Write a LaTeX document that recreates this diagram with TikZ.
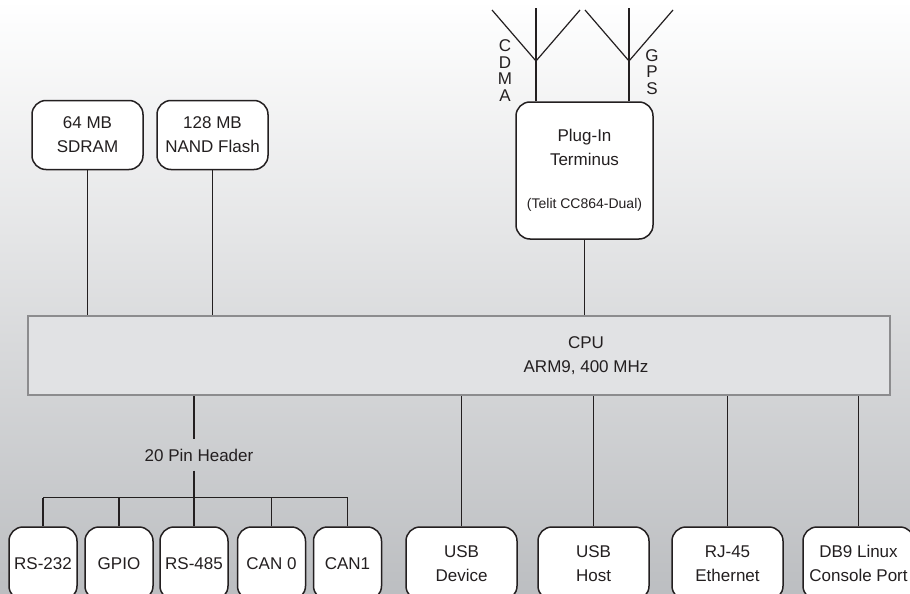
\documentclass[tikz,border=0pt]{standalone}
\usepackage{fontspec}
\setmainfont{Liberation Sans}
\definecolor{bgmid}{RGB}{232,233,235}
\definecolor{bgbot}{RGB}{188,190,193}
\definecolor{cpufill}{RGB}{225,226,228}
\definecolor{cpuedge}{RGB}{140,140,142}
\definecolor{ink}{RGB}{35,31,32}
\tikzset{
  unit/.style={draw=ink, line width=1.5pt, fill=white, rounded corners=14pt, inner sep=0pt,
    align=center, text=ink, font=\fontsize{17}{24}\selectfont},
  port/.style={unit, minimum width=68pt, minimum height=73pt},
  wideport/.style={unit, minimum width=111pt, minimum height=73pt},
  memory/.style={unit, minimum width=111pt, minimum height=69pt},
  cpubox/.style={draw=cpuedge, line width=2pt, fill=cpufill, inner sep=0pt},
  link/.style={draw=ink, line width=1.2pt},
  caption/.style={text=ink, align=center, inner sep=0pt, font=\fontsize{17}{24}\selectfont},
  letters/.style={caption, font=\fontsize{17}{16.8}\selectfont}
}

\begin{document}
\begin{tikzpicture}[x=1pt, y=-1pt]
    \useasboundingbox (0,0) rectangle (910,594);
    \shade[top color=white, middle color=bgmid, bottom color=bgbot] (0,0) rectangle (910,594);

    % processor
    \node[cpubox, minimum width=862pt, minimum height=79pt] (cpu) at (459,355.5) {};
    \node[caption] (cputext) at (586,355.5) {CPU\\ARM9, 400 MHz};

    % memory and modem
    \node[memory] (sdram) at (87.5,135) {64 MB\\SDRAM};
    \node[memory] (nand) at (212.5,135) {128 MB\\NAND Flash};
    \node[unit, minimum width=137pt, minimum height=137pt] (plugin) at (584.5,170.5)
      {Plug-In\\Terminus\\[19pt]{\fontsize{14}{17}\selectfont(Telit CC864-Dual)}};
    \draw[link] (sdram) -- (sdram |- cpu.north);
    \draw[link] (nand) -- (nand |- cpu.north);
    \draw[link] (plugin) -- (plugin |- cpu.north);

    % antennas
    \coordinate (cdma) at (536,61);
    \coordinate (gps) at (629,61);
    \foreach \a in {cdma, gps} {
      \draw[link] (plugin.north -| \a) -- ([shift={(0,-53)}]\a);
      \draw[link] ([shift={(-44,-51)}]\a) -- (\a) -- ([shift={(44,-51)}]\a);
    }
    \node[letters] (cdmalbl) at (505,70.5) {C\\D\\M\\A};
    \node[letters] (gpslbl) at (652,72) {G\\P\\S};

    % header ports
    \node[caption, minimum height=31pt] (hdr) at (199,455) {20 Pin Header};
    \coordinate (split) at (194,497.5);
    \node[port] (rs232) at (43,563.5) {RS-232};
    \node[port] (gpio) at (119,563.5) {GPIO};
    \node[port] (rs485) at (194,563.5) {RS-485};
    \node[port] (can0) at (271.5,563.5) {CAN 0};
    \node[port] (can1) at (347.5,563.5) {CAN1};
    \draw[link] (cpu.south -| split) -- (hdr.north -| split);
    \draw[link] (hdr.south -| split) -- (split);
    \draw[link] (rs232.north |- split) -- (can1.north |- split);
    \foreach \p in {rs232, gpio, rs485, can0, can1}
      \draw[link] (\p) -- (\p |- split);

    % other ports
    \node[wideport] (usbdev) at (461.5,563.5) {USB\\Device};
    \node[wideport] (usbhost) at (593.5,563.5) {USB\\Host};
    \node[wideport] (rj45) at (727.5,563.5) {RJ-45\\Ethernet};
    \node[wideport] (db9) at (858.5,563.5) {DB9 Linux\\Console Port};
    \foreach \p in {usbdev, usbhost, rj45, db9}
      \draw[link] (\p) -- (\p |- cpu.south);
\end{tikzpicture}
\end{document}
